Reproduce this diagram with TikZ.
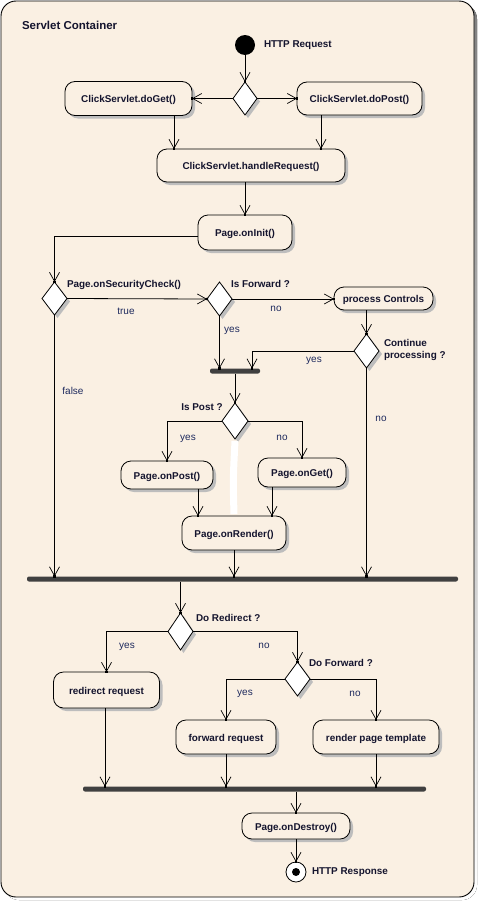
\documentclass[tikz,border=0pt]{standalone}
\usepackage{fontspec}
\setmainfont{Liberation Sans}
\usetikzlibrary{arrows.meta,shapes.geometric,shadows,decorations.markings}

\definecolor{paper}{HTML}{FAF0E3}
\definecolor{shade}{HTML}{BDBDBD}
\definecolor{ink}{HTML}{14142E}
\definecolor{navy}{HTML}{1E2A5E}
\definecolor{barcol}{HTML}{404040}

\tikzset{
  every node/.style={inner sep=0pt, outer sep=0pt},
  box/.style={draw=black, line width=0.8pt, fill=paper, rounded corners=10pt,
    general shadow={fill=shade, shadow xshift=3pt, shadow yshift=-3pt},
    font=\fontsize{9.9}{11}\selectfont\bfseries, text=ink,
    text height=8.6pt, text depth=0pt},
  choice/.style={diamond, draw=black, line width=0.8pt, fill=white,
    general shadow={fill=shade, shadow xshift=3pt, shadow yshift=-3pt},
    minimum width=25pt, minimum height=34pt},
  syncbar/.style={fill=barcol, rounded corners=2pt, minimum height=5pt},
  title/.style={font=\fontsize{9.9}{11}\selectfont\bfseries, text=ink},
  guard/.style={font=\fontsize{10}{11}\selectfont, text=navy},
  flow/.style={line width=0.8pt,
    -{Straight Barb[length=9pt,width=10pt,line width=0.7pt]},
    postaction={decorate, decoration={markings,
      mark=at position 1 with {\fill[black] (-1.2pt,-1.2pt) rectangle (1.2pt,1.2pt);}}}},
}

\begin{document}
\begin{tikzpicture}[x=1pt, y=-1pt]
\useasboundingbox (0,0) rectangle (478,902);

% container
\fill[shade, rounded corners=15pt] (4,4) rectangle (477,900);
\draw[line width=0.9pt, fill=paper, rounded corners=15pt] (1,1) rectangle (474,897);
\node[anchor=west, font=\fontsize{11.5}{13}\selectfont\bfseries, text=ink] (ttl) at (22,25) {Servlet Container};

% start
\node[circle, fill=black, minimum size=20pt] (start) at (245,45) {};
\node[title, anchor=west] (startlbl) at (264,45) {HTTP Request};

% request dispatch
\node[choice, minimum width=24pt, minimum height=33pt] (d0) at (245,98.5) {};
\node[box, minimum width=127pt, minimum height=34pt] (doGet) at (128.5,98.5) {ClickServlet.doGet()};
\node[box, minimum width=125pt, minimum height=33pt] (doPost) at (359.5,98.5) {ClickServlet.doPost()};
\node[box, minimum width=188pt, minimum height=33pt] (hr) at (251,165.5) {ClickServlet.handleRequest()};
\node[box, minimum width=94pt, minimum height=35pt] (onInit) at (245,232.5) {Page.onInit()};

% security and forward checks
\node[choice, minimum height=33pt] (sec) at (54.5,298.5) {};
\node[title, anchor=west] (seclbl) at (67,285) {Page.onSecurityCheck()};
\node[choice] (fwd) at (219.5,299) {};
\node[title, anchor=west] (fwdlbl) at (231,284) {Is Forward ?};
\node[box, minimum width=99pt, minimum height=23pt] (pc) at (383.5,298.5) {process Controls};
\node[choice] (cont) at (366.5,351) {};
\node[title, anchor=west, align=left, font=\fontsize{9.9}{12}\selectfont\bfseries] (contlbl) at (384,350) {Continue\\processing ?};
\node[syncbar, minimum width=50pt] (bar1) at (235,371) {};

% post / get
\node[choice, minimum width=26pt, minimum height=36pt] (post) at (235,421) {};
\node[title] (postlbl) at (202,407) {Is Post ?};
\node[box, minimum width=92pt, minimum height=28pt] (onPost) at (167,475) {Page.onPost()};
\node[box, minimum width=88pt, minimum height=29pt] (onGet) at (302,472.5) {Page.onGet()};
\draw[white, line width=7pt] ([yshift=-2pt]post.south) .. controls (233,480) .. ([yshift=1pt]234,515);
\node[box, minimum width=104pt, minimum height=34pt] (onRender) at (234,533) {Page.onRender()};
\node[syncbar, minimum width=431pt] (bar2) at (242.5,579) {};

% redirect / forward
\node[choice, minimum height=37pt] (dr) at (180.5,631.5) {};
\node[title, anchor=west] (drlbl) at (196,618) {Do Redirect ?};
\node[box, minimum width=106pt, minimum height=36pt] (redir) at (106.5,690) {redirect request};
\node[choice] (df) at (297.5,679) {};
\node[title, anchor=west] (dflbl) at (309,663) {Do Forward ?};
\node[box, minimum width=100pt, minimum height=34pt] (fwdreq) at (226,737) {forward request};
\node[box, minimum width=126pt, minimum height=34pt] (render) at (376,737) {render page template};
\node[syncbar, minimum width=343pt] (bar3) at (254.5,789) {};
\node[box, minimum width=108pt, minimum height=26pt] (destroy) at (296,826) {Page.onDestroy()};

% end
\node[circle, draw=black, line width=0.8pt, fill=white, minimum size=20pt] (end) at (296,872) {};
\node[circle, fill=black, minimum size=8pt] (enddot) at (end) {};
\node[title, anchor=west] (endlbl) at (312,872) {HTTP Response};

% flows
\draw[flow] (start) -- (d0);
\draw[flow] (d0.west) -- (d0.west -| doGet.east);
\draw[flow] (d0.east) -- (d0.east -| doPost.west);
\draw[flow] ([xshift=45.5pt]doGet.south) -- ([xshift=45.5pt]doGet.south |- hr.north);
\draw[flow] ([xshift=-38.5pt]doPost.south) -- ([xshift=-38.5pt]doPost.south |- hr.north);
\draw[flow] ([xshift=-6pt]hr.south) -- (onInit.north);
\draw[flow] ([yshift=-3.5pt]onInit.west) -| (sec.north);
\draw[flow] (sec.east) -- (fwd.west);
\draw[flow] (fwd.east) -- (fwd.east -| pc.west);
\draw[flow] (cont.north |- pc.south) -- (cont.north);
\draw[flow] (fwd.south) -- (fwd.south |- bar1.north);
\draw[flow] (cont.west) -| ([xshift=17pt]bar1.north);
\draw[flow] (bar1.south) -- (post.north);
\draw[flow] (post.west) -| (onPost.north);
\draw[flow] (post.east) -| (onGet.north);
\draw[flow] ([xshift=31pt]onPost.south) -- ([xshift=31pt]onPost.south |- onRender.north);
\draw[flow] ([xshift=-30pt]onGet.south) -- ([xshift=-30pt]onGet.south |- onRender.north);
\draw[flow] (onRender.south) -- (onRender.south |- bar2.north);
\draw[flow] (sec.south) -- (sec.south |- bar2.north);
\draw[flow] (cont.south) -- (cont.south |- bar2.north);
\draw[flow] (dr.north |- bar2.south) -- (dr.north);
\draw[flow] (dr.west) -| (redir.north);
\draw[flow] (dr.east) -| (df.north);
\draw[flow] (df.west) -| (fwdreq.north);
\draw[flow] (df.east) -| (render.north);
\draw[flow] ([xshift=-1.5pt]redir.south) -- ([xshift=-1.5pt]redir.south |- bar3.north);
\draw[flow] (fwdreq.south) -- (fwdreq.south |- bar3.north);
\draw[flow] (render.south) -- (render.south |- bar3.north);
\draw[flow] (destroy.north |- bar3.south) -- (destroy.north);
\draw[flow] (destroy.south) -- (end.north);

% guard labels
\node[guard] (gtrue) at (126,311) {true};
\node[guard] (gfalse) at (73,391) {false};
\node[guard] (gfno) at (276,309) {no};
\node[guard] (gfyes) at (232,331) {yes};
\node[guard] (gcyes) at (314,361) {yes};
\node[guard] (gcno) at (381,419) {no};
\node[guard] (gpyes) at (188,439) {yes};
\node[guard] (gpno) at (282,438) {no};
\node[guard] (gryes) at (127,647) {yes};
\node[guard] (grno) at (264,646) {no};
\node[guard] (gdyes) at (245,694) {yes};
\node[guard] (gdno) at (355,694) {no};
\end{tikzpicture}
\end{document}
